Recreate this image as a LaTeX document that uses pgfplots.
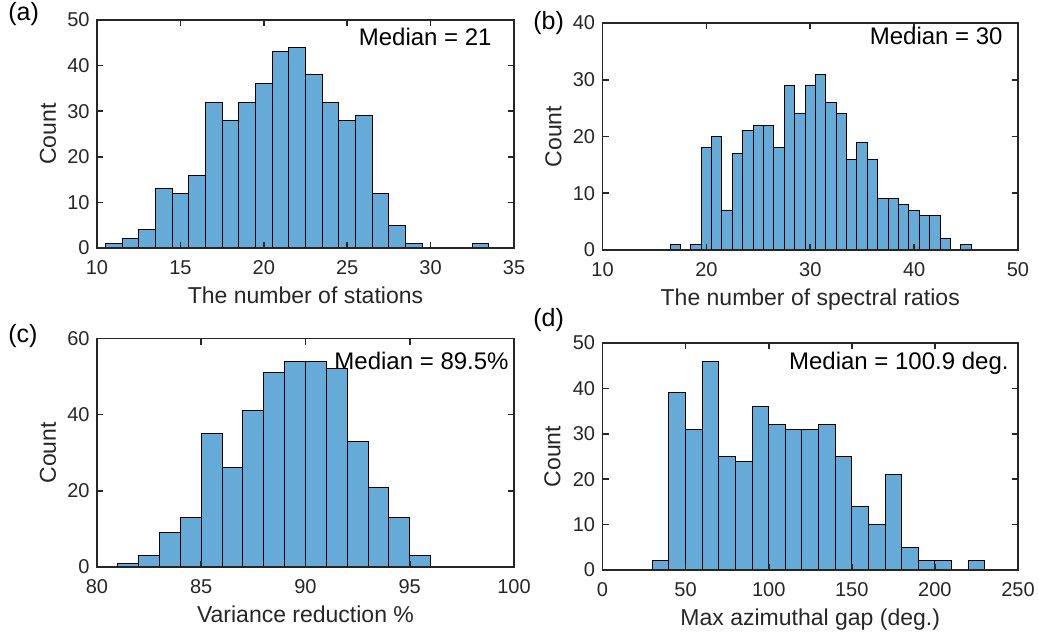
\documentclass[border=0pt]{standalone}
\usepackage{pgfplots}
\pgfplotsset{compat=1.18}
\usepackage{fontspec}
\setmainfont{Liberation Sans}
\definecolor{mbar}{RGB}{102,170,215}
\definecolor{axgray}{RGB}{38,38,38}
\pgfplotsset{
  hist/.style={
    scale only axis,
    anchor=south west,
    ymin=0,
    axis on top,
    axis line style={draw=axgray, line width=0.8pt},
    every tick/.style={draw=axgray, line width=0.8pt},
    tick align=inside,
    major tick length=3pt,
    minor tick num=0,
    tick label style={font=\fontsize{10}{12}\selectfont, text=axgray, inner sep=0pt},
    xticklabel style={anchor=north, yshift=-6pt},
    yticklabel style={anchor=east, xshift=-3.5pt},
    /pgf/number format/assume math mode=true,
    scaled ticks=false,
    every axis x label/.style={at={([yshift=-27.5pt]axis description cs:0.5,0)}, anchor=base, font=\fontsize{11.5}{13}\selectfont, text=axgray},
    every axis y label/.style={at={([xshift=-24.5pt]axis description cs:0,0.5)}, anchor=center, rotate=90, font=\fontsize{11.5}{13}\selectfont, text=axgray},
  },
  barstyle/.style={ybar interval, fill=mbar, draw=black, line width=0.5pt},
}
\begin{document}
\begin{tikzpicture}
\path[use as bounding box] (0,0) rectangle (519.5pt,319.5pt);
% (a)
\begin{axis}[hist, name=a, at={(48.5pt,195.5pt)}, width=208.5pt, height=114pt,
  xmin=10, xmax=35, ymax=50, xtick={10,15,...,35}, ytick={0,10,...,50},
  xlabel={The number of stations}, ylabel={Count}]
\addplot[barstyle] coordinates {
(10.5,1) (11.5,2) (12.5,4) (13.5,13) (14.5,12) (15.5,16) (16.5,32) (17.5,28)
(18.5,32) (19.5,36) (20.5,43) (21.5,44) (22.5,38) (23.5,32) (24.5,28) (25.5,29)
(26.5,12) (27.5,5) (28.5,1) (29.5,0) (30.5,0) (31.5,0) (32.5,1) (33.5,0)};
\end{axis}
% (b)
\begin{axis}[hist, name=b, at={(301.25pt,194.5pt)}, width=207.75pt, height=113.5pt,
  xmin=10, xmax=50, ymax=40, xtick={10,20,...,50}, ytick={0,10,...,40},
  xlabel={The number of spectral ratios}, ylabel={Count}]
\addplot[barstyle] coordinates {
(16.5,1) (17.5,0) (18.5,1) (19.5,18) (20.5,20) (21.5,7) (22.5,17) (23.5,21)
(24.5,22) (25.5,22) (26.5,18) (27.5,29) (28.5,24) (29.5,29) (30.5,31) (31.5,26)
(32.5,24) (33.5,16) (34.5,19) (35.5,16) (36.5,9) (37.5,9) (38.5,8) (39.5,7)
(40.5,6) (41.5,6) (42.5,2) (43.5,0) (44.5,1) (45.5,0)};
\end{axis}
% (c)
\begin{axis}[hist, name=c, at={(48.5pt,36pt)}, width=208.5pt, height=114.25pt,
  xmin=80, xmax=100, ymax=60, xtick={80,85,...,100}, ytick={0,20,...,60},
  xlabel={Variance reduction \%}, ylabel={Count}]
\addplot[barstyle] coordinates {
(81,1) (82,3) (83,9) (84,13) (85,35) (86,26) (87,41) (88,51) (89,54) (90,54)
(91,52) (92,33) (93,21) (94,13) (95,3) (96,0)};
\end{axis}
% (d)
\begin{axis}[hist, name=d, at={(301.25pt,34.5pt)}, width=207.75pt, height=113.5pt,
  xmin=0, xmax=250, ymax=50, xtick={0,50,...,250}, ytick={0,10,...,50},
  xlabel={Max azimuthal gap (deg.)}, ylabel={Count},
  every axis y label/.append style={at={([xshift=-25pt]axis description cs:0,0.5)}}]
\addplot[barstyle] coordinates {
(30,2) (40,39) (50,31) (60,46) (70,25) (80,24) (90,36) (100,32) (110,31) (120,31)
(130,32) (140,25) (150,14) (160,10) (170,21) (180,5) (190,2) (200,2) (210,0) (220,2) (230,0)};
\end{axis}
% medians
\begin{scope}[every node/.style={anchor=north east, inner sep=0pt, font=\fontsize{12}{14}\selectfont}]
\node at ([xshift=-11pt,yshift=-4pt]a.north east) {Median = 21};
\node at ([xshift=-7.5pt,yshift=-2pt]b.north east) {Median = 30};
\node at ([xshift=-2.5pt,yshift=-6.5pt]c.north east) {Median = 89.5\%};
\node at ([xshift=-4.5pt,yshift=-4.5pt]d.north east) {Median = 100.9 deg.};
\end{scope}
% panel labels
\begin{scope}[every node/.style={anchor=north west, inner sep=0pt, font=\fontsize{12.5}{14}\selectfont}]
\node at (4pt,318.5pt) {(a)};
\node at (266.5pt,314pt) {(b)};
\node at (4pt,157.5pt) {(c)};
\node at (266.5pt,165.5pt) {(d)};
\end{scope}
\end{tikzpicture}
\end{document}
